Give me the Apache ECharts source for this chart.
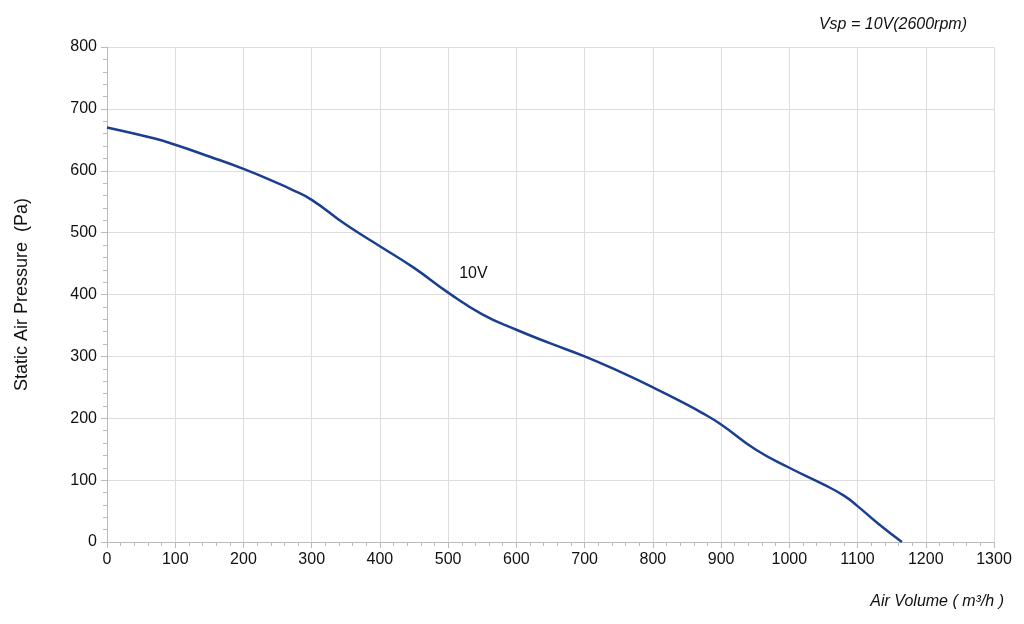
<!DOCTYPE html>
<html><head><meta charset="utf-8">
<script src="https://cdn.jsdelivr.net/npm/echarts@6/dist/echarts.min.js"></script>
<style>html,body{margin:0;padding:0;background:#fff}#c{width:1024px;height:624px}</style>
</head><body><div id="c"></div>
<script>
const airVolume = [0,70,100,150,200,250,270,300,350,400,450,500,550,600,650,700,750,800,850,870,900,950,1000,1050,1080,1100,1130,1165];
const pressure  = [670,652,642,623,603,580,570,553,513,478,443,403,368,343,321,300,276,250,222,210,190,150,120,93,75,58,30,0];
const xTicks = [0,1300,100];
const yTicks = [0,800,100];
const chart = echarts.init(document.getElementById('c'));
const gray = '#bbbbbb';
chart.setOption({
  animation:false,
  grid:{left:107,right:30,top:47,bottom:82},
  title:{text:'Vsp = 10V(2600rpm)',right:52,top:12,textStyle:{fontFamily:'Liberation Sans',fontSize:16,fontStyle:'italic',fontWeight:'normal',color:'#111'}},
  xAxis:{type:'value',min:xTicks[0],max:xTicks[1],interval:xTicks[2],
    name:'Air Volume ( m³/h )',nameLocation:'end',nameGap:0,
    nameTextStyle:{fontFamily:'Liberation Sans',fontSize:16,fontStyle:'italic',color:'#111',align:'right',verticalAlign:'top',padding:[52,-10,0,0]},
    axisLine:{lineStyle:{color:gray}},axisTick:{show:true,length:6,lineStyle:{color:gray}},
    minorTick:{show:true,splitNumber:5,length:4,lineStyle:{color:gray}},
    axisLabel:{fontFamily:'Liberation Sans',fontSize:16,color:'#111',margin:10,formatter:v=>String(v)},
    splitLine:{lineStyle:{color:'#dddddd'}}},
  yAxis:{type:'value',min:yTicks[0],max:yTicks[1],interval:yTicks[2],
    name:'Static Air Pressure  (Pa)',nameLocation:'middle',nameGap:76,
    nameTextStyle:{fontFamily:'Liberation Sans',fontSize:18,color:'#111'},
    axisLine:{show:true,lineStyle:{color:gray}},axisTick:{show:true,length:6,lineStyle:{color:gray}},
    minorTick:{show:true,splitNumber:5,length:4,lineStyle:{color:gray}},
    axisLabel:{fontFamily:'Liberation Sans',fontSize:16,color:'#111',margin:10,formatter:v=>String(v)},
    splitLine:{lineStyle:{color:'#dddddd'}}},
  series:[{type:'line',smooth:0.5,symbol:'none',data:airVolume.map((x,i)=>[x,pressure[i]]),
    lineStyle:{color:'#1a3f8f',width:2.5},
    markPoint:{symbol:'circle',symbolSize:0,data:[{coord:[537,413],value:'10V'}],
      label:{show:true,formatter:'10V',fontFamily:'Liberation Sans',fontSize:16,color:'#111',position:'top'}}}]
});
</script></body></html>
